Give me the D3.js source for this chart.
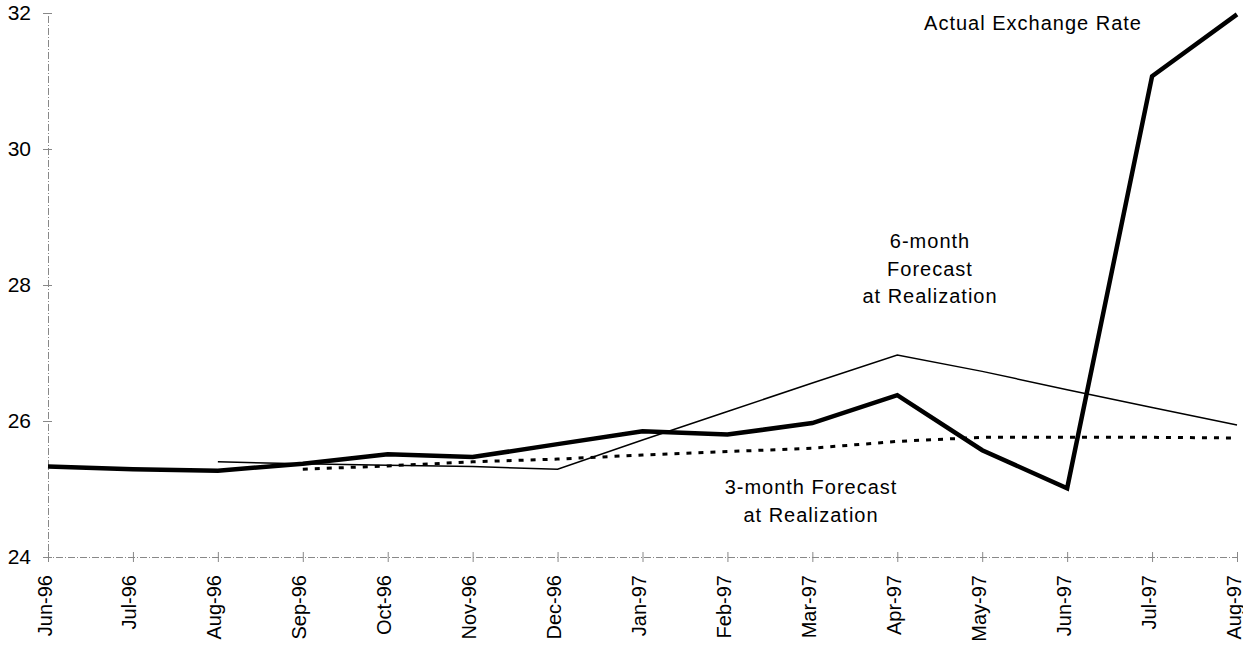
<!DOCTYPE html>
<html>
<head>
<meta charset="utf-8">
<script src="https://cdn.jsdelivr.net/npm/d3@7"></script>
<style>
  body { margin: 0; background: #fff; }
  svg { font-family: "Liberation Sans", Arial, sans-serif; }
</style>
</head>
<body>
<svg width="1243" height="652"></svg>
<script>
// months on the x axis
const months = ["Jun-96","Jul-96","Aug-96","Sep-96","Oct-96","Nov-96","Dec-96",
                "Jan-97","Feb-97","Mar-97","Apr-97","May-97","Jun-97","Jul-97","Aug-97"];
const yTicks = [24, 26, 28, 30, 32];

// actual exchange rate (thick line)
const actual = [25.33, 25.29, 25.27, 25.37, 25.51, 25.47, 25.66,
                25.85, 25.80, 25.97, 26.38, 25.57, 25.01, 31.07, 31.98];
// 6-month forecast at realization (thin line), starts Aug-96
const sixMonth = [null, null, 25.40, 25.37, 25.35, 25.33, 25.29,
                  25.72, 26.14, 26.56, 26.97, 26.73, 26.46, 26.20, 25.94];
// 3-month forecast at realization (dotted), starts Sep-96
const threeMonth = [null, null, null, 25.29, 25.34, 25.40, 25.44,
                    25.50, 25.55, 25.60, 25.70, 25.76, 25.76, 25.76, 25.75];

let svg = d3.select("svg");

let x = d3.scalePoint().domain(months).range([48, 1237]);
let y = d3.scaleLinear().domain([24, 32]).range([557, 13]);

// axes
let gx = svg.append("g").attr("transform", "translate(0,557)")
    .call(d3.axisBottom(x).tickSize(5));
gx.select(".domain").attr("stroke", "#888").attr("stroke-dasharray", "7,2,1,2");
gx.selectAll(".tick line").attr("y1", -5).attr("y2", 5).attr("stroke", "#888");
gx.selectAll(".tick text")
    .attr("transform", "rotate(-90)")
    .attr("text-anchor", "end")
    .attr("x", -18).attr("y", 0).attr("dy", "0.15em")
    .style("font-size", "20px").attr("fill", "#000");

let gy = svg.append("g").attr("transform", "translate(48,0)")
    .call(d3.axisLeft(y).tickValues(yTicks).tickSize(5).tickPadding(12));
gy.select(".domain").attr("stroke", "#888").attr("stroke-dasharray", "7,2,1,2");
gy.selectAll(".tick line").attr("x1", -5).attr("x2", 4).attr("stroke", "#888");
gy.selectAll(".tick text").style("font-size", "21px").attr("fill", "#000");

function drawLine(vals, width, dash) {
  let line = d3.line()
      .defined(d => d != null)
      .x((d, i) => x(months[i]))
      .y(d => y(d));
  let p = svg.append("path")
      .datum(vals)
      .attr("d", line)
      .attr("fill", "none")
      .attr("stroke", "#000")
      .attr("stroke-width", width)
      .attr("stroke-linejoin", "miter");
  if (dash) p.attr("stroke-dasharray", dash);
}

drawLine(threeMonth, 3, "5,7");
drawLine(sixMonth, 1.5, null);
drawLine(actual, 4.5, null);

// annotations
function label(lines, cx, cy) {
  let t = svg.append("text")
      .attr("text-anchor", "middle")
      .style("font-size", "20px")
      .style("letter-spacing", "1px")
      .attr("fill", "#000");
  lines.forEach((s, i) => {
    t.append("tspan").attr("x", cx).attr("y", cy + i * 27.5).text(s);
  });
}
label(["Actual Exchange Rate"], 1033, 30);
label(["6-month", "Forecast", "at Realization"], 930, 248);
label(["3-month Forecast", "at Realization"], 811, 494);
</script>
</body>
</html>
